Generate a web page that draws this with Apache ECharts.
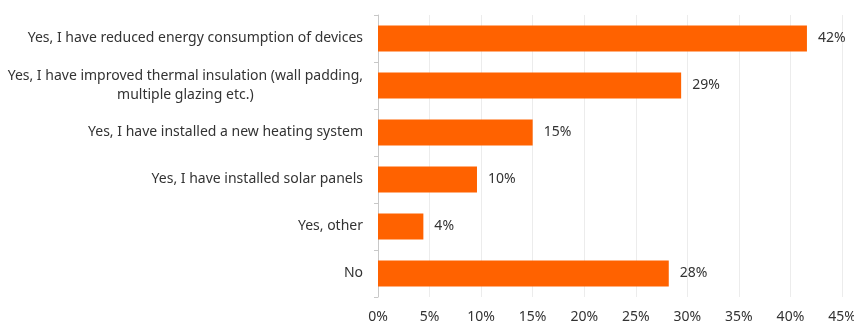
<!DOCTYPE html>
<html><head><meta charset="utf-8">
<script src="https://cdn.jsdelivr.net/npm/echarts@6/dist/echarts.min.js"></script>
<style>html,body{margin:0;padding:0;background:#fff}#c{width:854px;height:323px}</style>
</head><body><div id="c"></div>
<script>
const categories = [
  "Yes, I have reduced energy consumption of devices",
  "Yes, I have improved thermal insulation (wall padding,\nmultiple glazing etc.)",
  "Yes, I have installed a new heating system",
  "Yes, I have installed solar panels",
  "Yes, other",
  "No"
];
const values = [41.6, 29.4, 15.0, 9.6, 4.4, 28.2];
const valueLabels = ["42%", "29%", "15%", "10%", "4%", "28%"];
const xTicks = [0, 5, 10, 15, 20, 25, 30, 35, 40, 45];

const FONT = "Noto Sans";
const chart = echarts.init(document.getElementById('c'), null, {renderer: 'canvas'});
chart.setOption({
  animation: false,
  grid: {left: 378, right: 12, top: 15, bottom: 26, containLabel: false, outerBoundsMode: 'none'},
  xAxis: {
    type: 'value', min: 0, max: 45, interval: 5,
    axisLine: {show: false}, axisTick: {show: false},
    splitLine: {show: true, lineStyle: {color: '#ececec', width: 1}},
    axisLabel: {formatter: v => v + '%', color: '#333', fontSize: 14, fontFamily: FONT, margin: 13, hideOverlap: false}
  },
  yAxis: {
    type: 'category', data: categories, inverse: true,
    axisLine: {show: true, lineStyle: {color: '#c8c8c8'}},
    axisTick: {show: true, length: 4, lineStyle: {color: '#c8c8c8'}},
    axisLabel: {
      color: '#333', fontSize: 14, fontFamily: FONT, margin: 15, align: 'right', lineHeight: 19,
      formatter: v => v.split('\n').map(s => '{c|' + s + '}').join('\n'),
      rich: {c: {align: 'center', color: '#333', fontSize: 14, fontFamily: FONT, lineHeight: 19}}
    }
  },
  series: [{
    type: 'bar', data: values, barWidth: 26,
    itemStyle: {color: '#FF6200'},
    label: {show: true, position: 'right', distance: 11, color: '#333', fontSize: 14, fontFamily: FONT,
      formatter: p => valueLabels[p.dataIndex]}
  }]
});
</script></body></html>
